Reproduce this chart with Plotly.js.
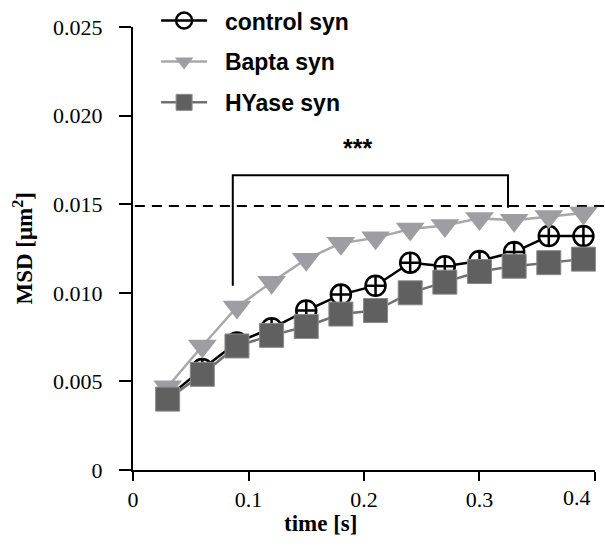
<!DOCTYPE html>
<html>
<head>
<meta charset="utf-8">
<script src="https://cdn.plot.ly/plotly-3.0.1.min.js"></script>
<style>html,body{margin:0;padding:0;background:#fff;}#chart{width:605px;height:550px;}</style>
</head>
<body>
<div id="chart"></div>
<script>
// Data
var timeS = [0.03, 0.06, 0.09, 0.12, 0.15, 0.18, 0.21, 0.24, 0.27, 0.30, 0.33, 0.36, 0.39];
var controlSyn = [0.0041, 0.0057, 0.0072, 0.0080, 0.0090, 0.0099, 0.0104, 0.0117, 0.0115, 0.0118, 0.0123, 0.0132, 0.0132];
var baptaSyn   = [0.0047, 0.0070, 0.0092, 0.0106, 0.0119, 0.0128, 0.0131, 0.0136, 0.0138, 0.0142, 0.0141, 0.0143, 0.0145];
var hyaseSyn   = [0.0040, 0.0054, 0.0070, 0.0076, 0.0081, 0.0088, 0.0090, 0.0100, 0.0106, 0.0112, 0.0115, 0.0117, 0.0119];
var seriesNames = ["control syn", "Bapta syn", "HYase syn"];
var yTickVals = [0, 0.005, 0.010, 0.015, 0.020, 0.025];
var yTickText = ["0", "0.005", "0.010", "0.015", "0.020", "0.025"];
var xTickVals = [0, 0.1, 0.2, 0.3, 0.4];
var xTickText = ["0", "0.1", "0.2", "0.3", "0.4"];
var plateauLevel = 0.0149;
var bracket = {x0: 0.0864, y0: 0.0104, x1: 0.3247, y1: 0.0148, top: 0.01663};
var sigLabel = "***";

var pad = "&nbsp;&nbsp;";
var traces = [
  {x: timeS, y: controlSyn, name: pad + seriesNames[0], mode: "lines+markers", type: "scatter",
   legendgroup: "a", legendrank: 1, showlegend: false, cliponaxis: false,
   line: {color: "#000000", width: 2.5},
   marker: {symbol: "circle-cross", size: 20, color: "#ffffff", line: {color: "#000000", width: 2.5}}},
  {x: timeS, y: baptaSyn, name: pad + seriesNames[1], mode: "lines+markers", type: "scatter",
   legendgroup: "b", legendrank: 2, cliponaxis: false,
   line: {color: "#a8a8a8", width: 2.5},
   marker: {symbol: "triangle-down", size: 25, color: "#9e9ea2", line: {width: 0}}},
  {x: timeS, y: hyaseSyn, name: pad + seriesNames[2], mode: "lines+markers", type: "scatter",
   legendgroup: "c", legendrank: 3, cliponaxis: false,
   line: {color: "#707070", width: 2.5},
   marker: {symbol: "square", size: 24, color: "#606060", line: {color: "#8a8a8a", width: 1}}},
  // legend entry for the control series (open circle, as in the reference legend)
  {x: [null], y: [null], name: pad + seriesNames[0], mode: "lines+markers", type: "scatter",
   legendgroup: "a", legendrank: 1,
   line: {color: "#000000", width: 2.5},
   marker: {symbol: "circle-open", size: 16, color: "#000000", line: {color: "#000000", width: 2.5}}}
];

var tickFont = {family: "Liberation Serif, Times New Roman, serif", size: 22, color: "#000"};
// last x tick label is drawn shifted inward, as in the reference
var xTickShown = xTickText.map(function (t, i) { return i === xTickText.length - 1 ? "" : t; });

var layout = {
  width: 605, height: 550,
  margin: {l: 133, r: 10, t: 27, b: 80, autoexpand: false},
  paper_bgcolor: "#fff", plot_bgcolor: "#fff",
  showlegend: true,
  legend: {x: 0.05, y: 1.063, xanchor: "left", yanchor: "top", bgcolor: "rgba(0,0,0,0)",
           font: {family: "Liberation Sans, Arial, sans-serif", size: 23, color: "#000", weight: "bold"},
           tracegroupgap: 8, itemwidth: 46, traceorder: "grouped"},
  xaxis: {range: [0, 0.40001], tickvals: xTickVals, ticktext: xTickShown, showgrid: false, zeroline: false,
          showline: true, linecolor: "#000", linewidth: 2, ticks: "outside", ticklen: 9, tickwidth: 2,
          tickcolor: "#000", tickfont: tickFont, ticklabeloverflow: "allow", fixedrange: true},
  yaxis: {range: [0, 0.025], tickvals: yTickVals, ticktext: yTickText, showgrid: false, zeroline: false,
          showline: true, linecolor: "#000", linewidth: 2, ticks: "outside", ticklen: 12, tickwidth: 2,
          tickcolor: "#000", tickfont: tickFont, ticklabelstandoff: 12, fixedrange: true},
  shapes: [
    {type: "line", xref: "paper", yref: "y", x0: 0.004, x1: 1.03, y0: plateauLevel, y1: plateauLevel,
     line: {color: "#000", width: 2, dash: "10px,7px"}, layer: "below"},
    {type: "path", xref: "x", yref: "y",
     path: "M" + bracket.x0 + "," + bracket.y0 + " L" + bracket.x0 + "," + bracket.top +
           " L" + bracket.x1 + "," + bracket.top + " L" + bracket.x1 + "," + bracket.y1,
     line: {color: "#000", width: 2}, layer: "below"}
  ],
  annotations: [
    {x: 0.194, y: 0.0182, xref: "x", yref: "y", xanchor: "center", yanchor: "middle",
     text: "<b>" + sigLabel + "</b>", showarrow: false,
     font: {family: "Liberation Sans, Arial, sans-serif", size: 25, color: "#000"}},
    {x: -0.238, y: 0.50, xref: "paper", yref: "paper", xanchor: "center", yanchor: "middle",
     text: "<b>MSD [μm<sup>2</sup>]</b>", showarrow: false,
     textangle: -90, font: {family: "Liberation Serif, Times New Roman, serif", size: 23, color: "#000"}},
    {x: 0.405, y: -0.12, xref: "paper", yref: "paper", xanchor: "center", yanchor: "middle",
     text: "<b>time [s]</b>", showarrow: false,
     font: {family: "Liberation Serif, Times New Roman, serif", size: 23, color: "#000"}},
    {x: 1.0, xshift: -18, y: 0, yshift: -27, xref: "paper", yref: "paper", xanchor: "center", yanchor: "middle",
     text: xTickText[xTickText.length - 1], showarrow: false, font: tickFont}
  ]
};

Plotly.newPlot("chart", traces, layout, {displayModeBar: false, staticPlot: true});
</script>
</body>
</html>
